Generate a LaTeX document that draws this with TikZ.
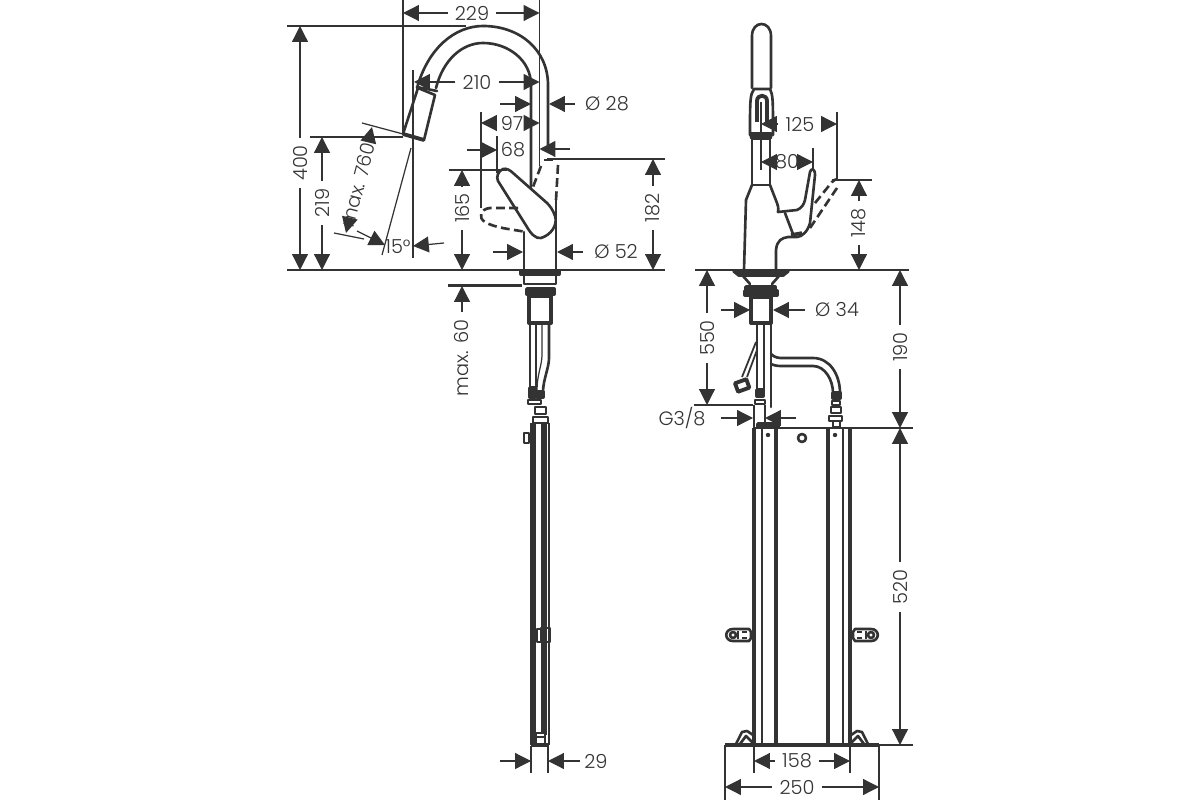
\documentclass[tikz,border=0pt]{standalone}
\usepackage{fontspec}
\setmainfont{Poppins}[UprightFont=* Light]
\usetikzlibrary{arrows.meta}
\definecolor{ink}{HTML}{333333}
\tikzset{
  outline/.style={ink,line width=1.5pt,line join=round,line cap=round},
  heavy/.style={ink,line width=2.2pt,line join=round},
  thinline/.style={ink,line width=0.7pt},
  hidden/.style={ink,line width=1.5pt,dash pattern=on 5pt off 2.5pt},
  dimarrow/.style={ink,line width=0.7pt,-{Triangle[length=9pt,width=9pt]}},
  lbl/.style={text=ink,font=\fontsize{11}{13}\selectfont,inner sep=4pt},
  lblv/.style={lbl,rotate=90}
}
\begin{document}
\begin{tikzpicture}[x=0.02cm,y=-0.02cm]
\useasboundingbox (0,0) rectangle (1200,800);
% left view, extension lines
\draw[thinline] (403,0) -- (403,134);
\draw[thinline] (539.5,0) -- (539.5,166);
\draw[thinline] (413,70) -- (413,258);
\draw[thinline] (287,26) -- (466,26);
\draw[thinline] (287,270) -- (522,270);
\draw[thinline] (558,270) -- (665,270);
\draw[thinline] (310,137) -- (403,137);
\draw[thinline] (547,159) -- (665,159);
\draw[thinline] (449,170) -- (507,170);
\draw[thinline] (481,112) -- (481,208);
\draw[thinline] (497,136) -- (497,173);
\draw[thinline] (362,123) -- (403,134);
\draw[thinline] (334,233) -- (364,239);
\draw[thinline] (411,148) -- (382,255);
\draw[heavy,line width=1.6pt] (448,270) -- (522,270);
\draw[heavy,line width=1.6pt] (448,285.7) -- (522,285.7);
% left view, spout
\draw[outline] (417,88) .. controls (428,48) and (455,26) .. (483,26) .. controls (520,26) and (548,50) .. (548,85) -- (548,147);
\draw[outline] (436,88) .. controls (443,60) and (462,43) .. (483,43) .. controls (508,43) and (531,60) .. (531,85) -- (531,187);
\draw[outline] (418,88) -- (435,95) -- (424,140) -- (403,134) -- cycle;
\draw[outline] (417,87) -- (437,91);
\draw[heavy] (403,134) -- (424,140);
% left view, lever and body
\draw[outline] (503,169) .. controls (498,171) and (496,177) .. (498,181) -- (527,227) .. controls (531,234) and (536,239) .. (541,238) .. controls (551,235) and (558,225) .. (555,216) .. controls (553,210) and (550,206) .. (547,203) -- (513,173) .. controls (510,170) and (506,168) .. (503,169) -- cycle;
\draw[outline] (524,232) -- (524,270);
\draw[outline] (556,200) -- (556,270);
\draw[hidden] (558,165) -- (556,200);
\draw[hidden] (544,160) -- (556,160);
\draw[hidden] (541,166) -- (533,187);
\draw[hidden] (518,208) -- (490,208) .. controls (480,209) and (478,218) .. (485,222) .. controls (495,228) and (510,229) .. (526,232);
% left view, under the deck
\draw[heavy,fill=ink] (521,271) rectangle (559,274);
\draw[outline] (524,275) -- (524,284) -- (556,284) -- (556,275);
\draw[heavy,fill=ink] (527,289) rectangle (554,294);
\draw[heavy] (529,296) rectangle (551,323);
\draw[outline] (530,323) -- (530,388);
\draw[outline] (536,323) -- (536,388);
\draw[thinline] (542,323) -- (542,355) .. controls (542,365) and (537,375) .. (537,390);
\draw[outline] (549,323) -- (549,358) .. controls (549,368) and (543,380) .. (543,392);
\draw[heavy,fill=ink] (530,388) rectangle (535,397);
\draw[heavy,fill=ink] (537,392) rectangle (543,397);
\draw[outline] (528,400) rectangle (541,404);
\draw[outline] (535,407) rectangle (546,414);
\draw[outline] (533,417) rectangle (548,423);
% left view, rail
\draw[heavy] (532,423) -- (532,745);
\draw[thinline] (535,423) -- (535,745);
\draw[heavy,line width=3pt] (544,423) -- (544,735);
\draw[thinline] (549,423) -- (549,745);
\draw[heavy] (531,745) -- (549,745);
\draw[outline] (524,433) rectangle (529,443);
\draw[thinline] (529,438) -- (532,438);
\draw[outline,fill=white] (537,629) rectangle (541,642);
\draw[outline] (541,628) -- (550,628) -- (550,642) -- (541,642);
\draw[thinline] (549.5,642) -- (549.5,654);
\draw[outline,fill=white] (536,733) rectangle (545,737);
\draw[outline] (536,737) -- (536,745);
\draw[outline] (545,737) -- (545,745);
% right view, spray head and neck
\draw[outline] (752,88) -- (752,36) .. controls (752,20) and (771,20) .. (771,36) -- (771,88);
\draw[outline] (754,89) -- (770,89) .. controls (773,95) and (773,100) .. (773,135);
\draw[outline] (754,89) .. controls (750,95) and (750,100) .. (750,135);
\draw[heavy,fill=ink] (751,134) -- (771,134) -- (770,138) -- (752,138) -- cycle;
\draw[heavy] (757,122) -- (757,101) .. controls (757,94) and (767,94) .. (767,101) -- (767,122);
\draw[thinline] (761,102) -- (761,170);
\draw[outline] (752,139) -- (752,185) -- (770,185) -- (770,139);
% right view, body and lever
\draw[outline] (752,185) -- (746,200) -- (744,270);
\draw[outline] (770,185) -- (777,203) .. controls (779,208) and (778,210) .. (778,212) -- (797,210) .. controls (802,208) and (804,204) .. (805,200) -- (810,172) .. controls (811,168) and (815,168) .. (815,175) -- (810,223) .. controls (808,231) and (802,237) .. (797,237) -- (788,237) .. controls (782,238) and (777,240) .. (776,250) -- (776,270);
\draw[outline] (785,213) -- (793,234);
\draw[heavy,line width=2pt] (791,235) -- (802,233);
\draw[hidden] (815,203) -- (832,182) .. controls (834,180) and (836,179) .. (838,179);
\draw[hidden] (837,188) -- (810,228);
% right view, under the deck
\draw[heavy,fill=ink] (734,271) -- (788,271) -- (783,275) -- (739,275) -- cycle;
\draw[outline] (743,276) -- (750,284);
\draw[outline] (779,276) -- (772,284);
\draw[heavy,fill=ink] (746,287) rectangle (775,291);
\draw[heavy,fill=ink] (745,291) rectangle (777,295);
\draw[heavy] (751,297) rectangle (771,323);
\draw[outline] (757,323) -- (757,390);
\draw[outline] (764,323) -- (764,390);
\draw[outline] (771,323) -- (771,407);
\draw[heavy,fill=ink] (757,390) rectangle (763,396);
\draw[outline] (755,400) rectangle (765,404);
\draw[thinline] (754,405) -- (754,427);
\draw[thinline] (765,405) -- (765,424);
% right view, hoses
\draw[thinline,line width=1pt] (756,342) -- (742,377);
\draw[thinline,line width=1pt] (757,350) -- (747,377);
\draw[heavy,rotate around={20:(742,385)}] (736,381) rectangle (748,390);
\draw[outline] (771,354) .. controls (775,358) and (779,358) .. (783,358) -- (813,358) .. controls (830,358) and (840,375) .. (840,393);
\draw[outline] (771,364) .. controls (775,366) and (779,366) .. (783,366) -- (813,366) .. controls (825,366) and (833,380) .. (833,393);
\draw[heavy,fill=ink] (833,393) rectangle (840,398);
\draw[outline] (832,401) rectangle (840,405);
\draw[outline] (831,407) rectangle (841,413);
\draw[outline] (829,416) rectangle (842,421);
\draw[outline] (833,421) rectangle (840,427);
% right view, rail
\draw[heavy] (754,428) -- (754,745);
\draw[thinline] (762,428) -- (762,745);
\draw[heavy] (776,428) -- (776,745);
\draw[heavy] (828,428) -- (828,745);
\draw[thinline] (843,428) -- (843,745);
\draw[heavy] (850,428) -- (850,745);
\draw[thinline] (753,428) -- (913,428);
\draw[heavy,line width=2.4pt] (725,745) -- (879,745);
\draw[heavy,fill=ink] (758,424) rectangle (778,427);
\draw[outline] (802,438) circle (4);
\fill[ink] (768,435) circle (2.2);
\fill[ink] (835,435) circle (2.2);
% right view, brackets and feet
\draw[outline] (733,629) -- (749,629) -- (751,632) -- (751,638) -- (749,641) -- (733,641) .. controls (724,641) and (724,629) .. (733,629) -- cycle;
\draw[outline] (733,635) circle (3);
\draw[thinline] (738,631) -- (738,639);
\draw[thinline] (742,632) -- (747,632);
\draw[thinline] (742,638) -- (747,638);
\draw[outline] (871,629) -- (855,629) -- (853,632) -- (853,638) -- (855,641) -- (871,641) .. controls (880,641) and (880,629) .. (871,629) -- cycle;
\draw[outline] (871,635) circle (3);
\draw[thinline] (866,631) -- (866,639);
\draw[thinline] (857,632) -- (862,632);
\draw[thinline] (857,638) -- (862,638);
\draw[outline] (736,744) -- (742,732) -- (747,731) -- (753,735);
\draw[outline] (740,744) -- (746,736) -- (753,743);
\draw[outline] (868,744) -- (862,732) -- (857,731) -- (851,735);
\draw[outline] (864,744) -- (858,736) -- (851,743);
% right view, extension lines
\draw[thinline] (695,270) -- (909,270);
\draw[thinline] (832,180) -- (872,180);
\draw[thinline] (837,112) -- (837,180);
\draw[thinline] (813,148) -- (813,170);
\draw[thinline] (694,405) -- (753,405);
\draw[thinline] (850,745) -- (913,745);
\draw[thinline] (754,745) -- (754,773);
\draw[thinline] (850,745) -- (850,773);
\draw[thinline] (725,745) -- (725,800);
\draw[thinline] (879,745) -- (879,800);
\draw[thinline] (531,746) -- (531,773);
\draw[thinline] (548,746) -- (548,773);
% dimensions, left view
\node[lbl] (d229) at (472,13) {229};
\coordinate (d229a) at (403,13);
\coordinate (d229b) at (539.5,13);
\draw[dimarrow] (d229) -- (d229a);
\draw[dimarrow] (d229) -- (d229b);
\node[lblv] (d400) at (300,163) {400};
\coordinate (d400a) at (300,26);
\coordinate (d400b) at (300,270);
\draw[dimarrow] (d400) -- (d400a);
\draw[dimarrow] (d400) -- (d400b);
\node[lblv] (d219) at (322,203) {219};
\coordinate (d219a) at (322,137);
\coordinate (d219b) at (322,270);
\draw[dimarrow] (d219) -- (d219a);
\draw[dimarrow] (d219) -- (d219b);
\node[lbl] (d210) at (477,82) {210};
\coordinate (d210a) at (414,82);
\coordinate (d210b) at (539.5,82);
\draw[dimarrow] (d210) -- (d210a);
\draw[dimarrow] (d210) -- (d210b);
\node[lbl] (d97) at (512,123) {97};
\coordinate (d97a) at (481,123);
\coordinate (d97b) at (539.5,123);
\draw[dimarrow] (d97) -- (d97a);
\draw[dimarrow] (d97) -- (d97b);
\node[lbl] (d68) at (513,150) {68};
\coordinate (d68a) at (467,150);
\coordinate (d68b) at (497,150);
\coordinate (d68c) at (570,149);
\coordinate (d68d) at (539.5,149);
\draw[dimarrow] (d68a) -- (d68b);
\draw[dimarrow] (d68c) -- (d68d);
\node[lbl] (d28) at (607,104) {Ø 28};
\coordinate (d28a) at (500,104);
\coordinate (d28b) at (531,104);
\coordinate (d28c) at (575,104);
\coordinate (d28d) at (549,104);
\draw[dimarrow] (d28a) -- (d28b);
\draw[dimarrow] (d28c) -- (d28d);
\node[lblv] (d165) at (462,208) {165};
\coordinate (d165a) at (462,170);
\coordinate (d165b) at (462,270);
\draw[dimarrow] (d165) -- (d165a);
\draw[dimarrow] (d165) -- (d165b);
\node[lblv] (d182) at (653,208) {182};
\coordinate (d182a) at (653,159);
\coordinate (d182b) at (653,270);
\draw[dimarrow] (d182) -- (d182a);
\draw[dimarrow] (d182) -- (d182b);
\node[lbl] (d52) at (616,252) {Ø 52};
\coordinate (d52a) at (493,252);
\coordinate (d52b) at (523,252);
\coordinate (d52c) at (583,252);
\coordinate (d52d) at (557,252);
\draw[dimarrow] (d52a) -- (d52b);
\draw[dimarrow] (d52c) -- (d52d);
\node[lblv] (d60) at (462,358) {max. 60};
\coordinate (d60a) at (462,286);
\draw[dimarrow] (d60) -- (d60a);
\node[lbl,rotate=75,inner sep=2pt] (d760) at (358,185) {max. 760};
\coordinate (d760a) at (372,127);
\coordinate (d760b) at (346,233);
\draw[dimarrow] (d760) -- (d760a);
\draw[dimarrow] (d760) -- (d760b);
\node[lbl,inner sep=0pt] (d15) at (398,247) {15°};
\coordinate (d15a) at (357,231);
\coordinate (d15b) at (385,245);
\coordinate (d15c) at (444,243);
\coordinate (d15d) at (413,246);
\draw[dimarrow] (d15a) -- (d15b);
\draw[dimarrow] (d15c) -- (d15d);
\node[lbl] (d29) at (596,761) {29};
\coordinate (d29a) at (500,761);
\coordinate (d29b) at (531,761);
\coordinate (d29c) at (580,761);
\coordinate (d29d) at (548,761);
\draw[dimarrow] (d29a) -- (d29b);
\draw[dimarrow] (d29c) -- (d29d);
% dimensions, right view
\node[lbl] (d125) at (800,124) {125};
\coordinate (d125a) at (761,124);
\coordinate (d125b) at (837,124);
\draw[dimarrow] (d125) -- (d125a);
\draw[dimarrow] (d125) -- (d125b);
\node[lbl] (d80) at (787,162) {80};
\coordinate (d80a) at (761,162);
\coordinate (d80b) at (813,162);
\draw[dimarrow] (d80) -- (d80a);
\draw[dimarrow] (d80) -- (d80b);
\node[lblv] (d148) at (859,223) {148};
\coordinate (d148a) at (859,180);
\coordinate (d148b) at (859,270);
\draw[dimarrow] (d148) -- (d148a);
\draw[dimarrow] (d148) -- (d148b);
\node[lblv] (d550) at (707,338) {550};
\coordinate (d550a) at (707,270);
\coordinate (d550b) at (707,405);
\draw[dimarrow] (d550) -- (d550a);
\draw[dimarrow] (d550) -- (d550b);
\node[lblv] (d190) at (900,347) {190};
\coordinate (d190a) at (900,270);
\coordinate (d190b) at (900,428);
\draw[dimarrow] (d190) -- (d190a);
\draw[dimarrow] (d190) -- (d190b);
\node[lblv] (d520) at (900,587) {520};
\coordinate (d520a) at (900,428);
\coordinate (d520b) at (900,745);
\draw[dimarrow] (d520) -- (d520a);
\draw[dimarrow] (d520) -- (d520b);
\node[lbl] (d34) at (837,310) {Ø 34};
\coordinate (d34a) at (721,310);
\coordinate (d34b) at (750,310);
\coordinate (d34c) at (805,310);
\coordinate (d34d) at (773,310);
\draw[dimarrow] (d34a) -- (d34b);
\draw[dimarrow] (d34c) -- (d34d);
\node[lbl] (dG) at (682,418) {G3/8};
\coordinate (dGa) at (721,418);
\coordinate (dGb) at (753,418);
\coordinate (dGc) at (796,418);
\coordinate (dGd) at (765,418);
\draw[dimarrow] (dGa) -- (dGb);
\draw[dimarrow] (dGc) -- (dGd);
\node[lbl] (d158) at (797,761) {158};
\coordinate (d158a) at (754,761);
\coordinate (d158b) at (850,761);
\draw[dimarrow] (d158) -- (d158a);
\draw[dimarrow] (d158) -- (d158b);
\node[lbl] (d250) at (797,787) {250};
\coordinate (d250a) at (725,787);
\coordinate (d250b) at (879,787);
\draw[dimarrow] (d250) -- (d250a);
\draw[dimarrow] (d250) -- (d250b);
\end{tikzpicture}
\end{document}
